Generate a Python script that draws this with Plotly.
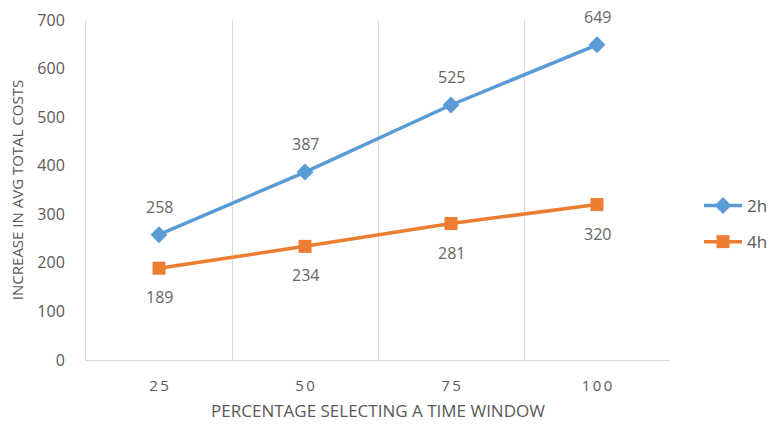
import plotly.graph_objects as go

categories = ["25", "50", "75", "100"]
series_2h = [258, 387, 525, 649]
series_4h = [189, 234, 281, 320]
y_ticks = [0, 100, 200, 300, 400, 500, 600, 700]

BLUE = "#5B9BD5"
ORANGE = "#ED7D31"
GRAY = "#595959"
LABEL_GRAY = "#666666"
FONT = "'Open Sans', sans-serif"

xpos = list(range(1, len(categories) + 1))

W, H = 772, 424
L, R, T, B = 86, 0, 20, 64
PLOT_RIGHT = 670
plot_w = W - L - R

fig = go.Figure()
fig.add_trace(go.Scatter(
    x=xpos, y=series_2h, name="2h", mode="lines+markers", legendgroup="a",
    line=dict(color=BLUE, width=3.5),
    marker=dict(symbol="diamond", size=13, color=BLUE),
))
fig.add_trace(go.Scatter(
    x=xpos, y=series_4h, name="4h", mode="lines+markers", legendgroup="b",
    line=dict(color=ORANGE, width=3.5),
    marker=dict(symbol="square", size=13, color=ORANGE),
))

annotations = []
for xv, yv in zip(xpos, series_2h):
    annotations.append(dict(x=xv, y=yv, text=str(yv), showarrow=False,
                            yshift=28, font=dict(size=16, color=LABEL_GRAY, family=FONT)))
for xv, yv in zip(xpos, series_4h):
    annotations.append(dict(x=xv, y=yv, text=str(yv), showarrow=False,
                            yshift=-29, font=dict(size=16, color=LABEL_GRAY, family=FONT)))

fig.update_layout(
    width=W, height=H,
    margin=dict(l=L, r=R, t=T, b=B, autoexpand=False),
    paper_bgcolor="white", plot_bgcolor="white",
    font=dict(family=FONT, color=GRAY, size=15),
    showlegend=True,
    legend=dict(x=(699 - L) / plot_w, y=0.40, xanchor="left", yanchor="middle",
                font=dict(size=17, color=GRAY), traceorder="grouped",
                tracegroupgap=11, itemwidth=38,
                bgcolor="rgba(0,0,0,0)"),
    annotations=annotations,
    xaxis=dict(
        domain=[0, (PLOT_RIGHT - L) / plot_w],
        range=[0.5, len(categories) + 0.5],
        tickmode="array", tickvals=xpos,
        ticktext=["\u2009".join(c) for c in categories],
        showgrid=False, zeroline=False, ticks="",
        showline=True, linecolor="#D9D9D9", linewidth=1,
        tickfont=dict(size=15, color=GRAY), ticklabelstandoff=12,
        minor=dict(tick0=0.5, dtick=1, showgrid=True, gridcolor="#D9D9D9", gridwidth=1, ticks=""),
        title=dict(text="PERCENTAGE SELECTING A TIME WINDOW", standoff=11,
                   font=dict(size=17, color=GRAY)),
        fixedrange=True,
    ),
    yaxis=dict(
        range=[0, 700], tickmode="array", tickvals=y_ticks,
        showgrid=False, zeroline=False, ticks="",
        showline=True, linecolor="#D9D9D9", linewidth=1,
        tickfont=dict(size=16, color=GRAY), ticklabelstandoff=17,
        title=dict(text="INCREASE IN AVG TOTAL COSTS", standoff=10,
                   font=dict(size=15, color=GRAY)),
    ),
)

fig.write_html("out.html")
